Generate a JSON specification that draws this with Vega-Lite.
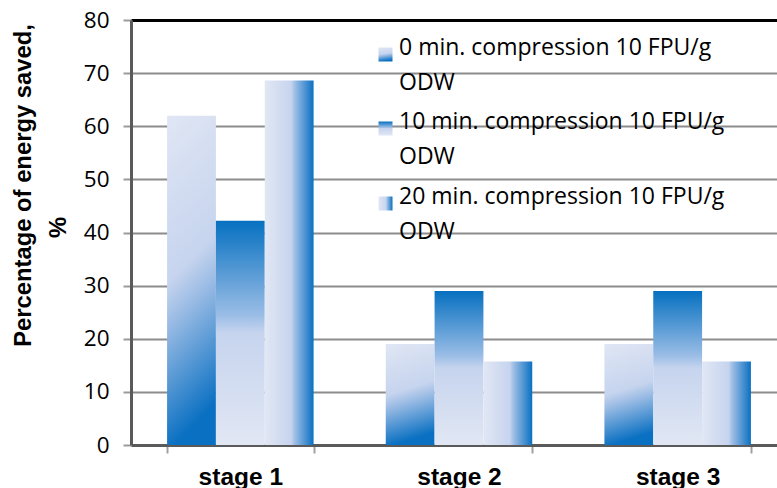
{
  "$schema": "https://vega.github.io/schema/vega-lite/v6.json",
  "autosize": {"type": "none"},
  "padding": {"left": 131, "top": 20, "right": 0, "bottom": 43},
  "width": 656,
  "height": 425,
  "background": "white",
  "data": {
    "values": [
      {"stage": "stage 1", "series": "0 min. compression 10 FPU/g ODW", "value": 62.0},
      {"stage": "stage 1", "series": "10 min. compression 10 FPU/g ODW", "value": 42.2},
      {"stage": "stage 1", "series": "20 min. compression 10 FPU/g ODW", "value": 68.6},
      {"stage": "stage 2", "series": "0 min. compression 10 FPU/g ODW", "value": 19.0},
      {"stage": "stage 2", "series": "10 min. compression 10 FPU/g ODW", "value": 29.0},
      {"stage": "stage 2", "series": "20 min. compression 10 FPU/g ODW", "value": 15.7},
      {"stage": "stage 3", "series": "0 min. compression 10 FPU/g ODW", "value": 19.0},
      {"stage": "stage 3", "series": "10 min. compression 10 FPU/g ODW", "value": 29.0},
      {"stage": "stage 3", "series": "20 min. compression 10 FPU/g ODW", "value": 15.7}
    ]
  },
  "encoding": {
    "x": {
      "field": "stage", "type": "nominal",
      "scale": {"paddingInner": 0.33, "paddingOuter": 0.165},
      "axis": {
        "title": null, "labelAngle": 0,
        "labelFont": "Liberation Sans", "labelFontWeight": "bold", "labelFontSize": 24.5, "labelColor": "black",
        "labelPadding": 12,
        "tickBand": "extent", "tickSize": 8, "tickColor": "#a0a0a0", "tickWidth": 2,
        "domainColor": "#5a5a5a", "domainWidth": 3
      }
    },
    "xOffset": {
      "field": "series", "type": "nominal",
      "scale": {"domain": ["0 min. compression 10 FPU/g ODW", "10 min. compression 10 FPU/g ODW", "20 min. compression 10 FPU/g ODW"], "paddingInner": 0, "paddingOuter": 0}
    }
  },
  "layer": [
    {
      "transform": [{"filter": "datum.series == '0 min. compression 10 FPU/g ODW'"}],
      "mark": {"type": "bar", "strokeWidth": 0,
        "fill": {"gradient": "linear", "x1": 0, "y1": 0, "x2": 0.15, "y2": 1,
           "stops": [{"offset": 0, "color": "#e0e6f4"}, {"offset": 0.5, "color": "#c6d4ee"}, {"offset": 0.62, "color": "#9dbde5"}, {"offset": 1, "color": "#0a70c2"}]}},
      "encoding": {
        "y": {
          "field": "value", "type": "quantitative",
          "scale": {"domain": [0, 80], "nice": false},
          "axis": {
            "orient": "left",
            "values": [0, 10, 20, 30, 40, 50, 60, 70, 80],
            "title": "Percentage of energy saved,",
            "titleFont": "Liberation Sans", "titleFontWeight": "bold", "titleFontSize": 23.8, "titleColor": "black",
            "titleAngle": -90, "titleAlign": "center", "titleBaseline": "middle",
            "titleX": -108, "titleY": 165,
            "labelFont": "Open Sans", "labelFontSize": 22.5, "labelColor": "black", "labelPadding": 14,
            "tickSize": 8, "tickColor": "#9a9a9a", "tickWidth": 2,
            "grid": true,
            "gridColor": {"condition": {"test": "datum.value == 80", "value": "#000000"}, "value": "#8c8c8c"},
            "gridWidth": {"condition": {"test": "datum.value == 80", "value": 3}, "value": 1.8},
            "domainColor": "#5a5a5a", "domainWidth": 3
          }
        },
        "stroke": {"field": "series", "type": "nominal", "scale": {"range": ["#ffffff"]},
          "legend": {"title": null, "orient": "none", "legendX": 243, "legendY": 23,
            "symbolType": "square", "symbolSize": 196, "symbolStrokeWidth": 0,
            "symbolFillColor": {"gradient": "linear", "x1": 0, "y1": 0, "x2": 1, "y2": 1,
              "stops": [{"offset": 0, "color": "#e0e6f4"}, {"offset": 0.5, "color": "#c6d4ee"}, {"offset": 1, "color": "#0a70c2"}]},
            "labelFont": "Open Sans", "labelFontSize": 23, "labelColor": "black",
            "labelBaseline": "alphabetic", "labelOffset": 2, "labelLimit": 500,
            "labelExpr": "[replace(datum.label, ' ODW', ''), 'ODW']", "padding": 0}}
      }
    },
    {
      "transform": [{"filter": "datum.series == '10 min. compression 10 FPU/g ODW'"}],
      "mark": {"type": "bar", "strokeWidth": 0,
        "fill": {"gradient": "linear", "x1": 0, "y1": 0, "x2": 0, "y2": 1,
           "stops": [{"offset": 0, "color": "#0670c0"}, {"offset": 0.42, "color": "#9abde6"}, {"offset": 0.5, "color": "#c6d4ee"}, {"offset": 1, "color": "#e1e7f4"}]}},
      "encoding": {
        "y": {
          "field": "value", "type": "quantitative",
          "axis": {
            "orient": "left", "title": "%",
            "titleFont": "Liberation Sans", "titleFontWeight": "bold", "titleFontSize": 23.8, "titleColor": "black",
            "titleAngle": -90, "titleAlign": "center", "titleBaseline": "middle",
            "titleX": -73, "titleY": 207,
            "labels": false, "ticks": false, "domain": false, "grid": false
          }
        },
        "stroke": {"field": "series", "type": "nominal", "scale": {"range": ["#ffffff"]},
          "legend": {"title": null, "orient": "none", "legendX": 243, "legendY": 97,
            "symbolType": "square", "symbolSize": 196, "symbolStrokeWidth": 0,
            "symbolFillColor": {"gradient": "linear", "x1": 0, "y1": 0, "x2": 0, "y2": 1,
              "stops": [{"offset": 0, "color": "#0670c0"}, {"offset": 0.5, "color": "#c6d4ee"}, {"offset": 1, "color": "#e1e7f4"}]},
            "labelFont": "Open Sans", "labelFontSize": 23, "labelColor": "black",
            "labelBaseline": "alphabetic", "labelOffset": 2, "labelLimit": 500,
            "labelExpr": "[replace(datum.label, ' ODW', ''), 'ODW']", "padding": 0}}
      }
    },
    {
      "transform": [{"filter": "datum.series == '20 min. compression 10 FPU/g ODW'"}],
      "mark": {"type": "bar", "strokeWidth": 0,
        "fill": {"gradient": "linear", "x1": 0, "y1": 0, "x2": 1, "y2": 0,
           "stops": [{"offset": 0, "color": "#e1e7f4"}, {"offset": 0.54, "color": "#c6d4ee"}, {"offset": 0.62, "color": "#9dbde5"}, {"offset": 1, "color": "#0a70c2"}]}},
      "encoding": {
        "y": {"field": "value", "type": "quantitative", "axis": null},
        "stroke": {"field": "series", "type": "nominal", "scale": {"range": ["#ffffff"]},
          "legend": {"title": null, "orient": "none", "legendX": 243, "legendY": 172,
            "symbolType": "square", "symbolSize": 196, "symbolStrokeWidth": 0,
            "symbolFillColor": {"gradient": "linear", "x1": 0, "y1": 0, "x2": 1, "y2": 0,
              "stops": [{"offset": 0, "color": "#e1e7f4"}, {"offset": 0.5, "color": "#c6d4ee"}, {"offset": 1, "color": "#0a70c2"}]},
            "labelFont": "Open Sans", "labelFontSize": 23, "labelColor": "black",
            "labelBaseline": "alphabetic", "labelOffset": 2, "labelLimit": 500,
            "labelExpr": "[replace(datum.label, ' ODW', ''), 'ODW']", "padding": 0}}
      }
    }
  ],
  "resolve": {"scale": {"stroke": "independent"}, "legend": {"stroke": "independent"}, "axis": {"y": "independent"}},
  "config": {
    "view": {"stroke": null},
    "legend": {"labelFont": "Open Sans"},
    "style": {"guide-label": {"lineHeight": 35}}
  }
}
